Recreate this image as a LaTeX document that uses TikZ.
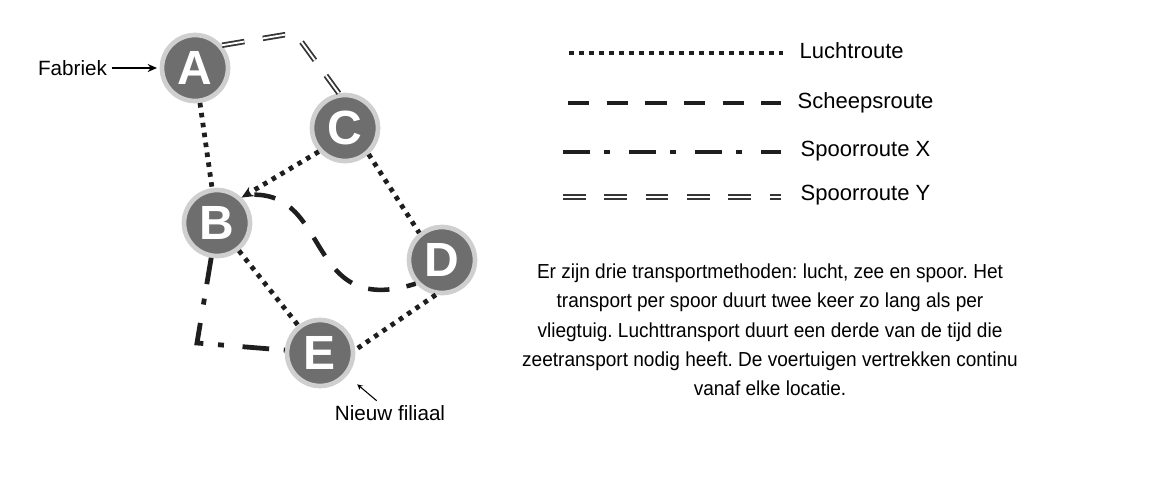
\documentclass[tikz,border=0pt]{standalone}
\usepackage{fontspec}
\setmainfont{Liberation Sans}
\newfontfamily\notefont[FakeStretch=0.94]{Liberation Sans}
\usepackage{tikz}
\usetikzlibrary{arrows,arrows.meta,calc,
                positioning}
\definecolor{StationFill}{HTML}{6E6E6E}
\definecolor{StationRing}{HTML}{CFCFCF}
\definecolor{RouteInk}{HTML}{1E1E1E}
\frenchspacing

\begin{document}
\begin{tikzpicture}[x=0.75pt,y=-0.75pt]
  \tikzset{StationNode/.style = {shape = circle, fill = StationFill, draw = StationRing, line width = 3.5pt, minimum size = 49.5pt, inner sep = 0pt, text = white, font = \fontsize{36}{36}\selectfont\bfseries}};
  \tikzset{LuchtStyle/.style = {RouteInk, line width = 3.6pt, dash pattern = on 3.4pt off 4.1pt}};
  \tikzset{ZeeStyle/.style = {RouteInk, line width = 3.4pt, dash pattern = on 16pt off 13pt}};
  \tikzset{SpoorXStyle/.style = {RouteInk, line width = 3.6pt, dash pattern = on 20pt off 11pt on 4.5pt off 14pt}};
  \tikzset{SpoorYStyle/.style = {draw = RouteInk!90, line width = 1.35pt, double = white, double distance = 1.4pt, dash pattern = on 17pt off 14pt}};
  \tikzset{LabelStyle/.style = {font = \fontsize{15.5}{18}\selectfont, text = black}};
  \tikzset{LegendStyle/.style = {font = \fontsize{16.5}{20}\selectfont, anchor = west, text height = 1.6ex, text depth = 0.3ex}};
  \tikzset{NoteStyle/.style = {font = \notefont\fontsize{15.2}{22}\selectfont, align = center}};
  \tikzset{PointerStyle/.style = {>=stealth, black, line width = 1.1pt, ->}};

  \useasboundingbox (0,0) rectangle (1160,476);

  % stations
  \node[StationNode] (A) at (195,68) {A};
  \node[StationNode] (C) at (345,128) {C};
  \node[StationNode] (B) at (217,223) {B};
  \node[StationNode] (D) at (442,260) {D};
  \node[StationNode] (E) at (320,353) {E};

  \node[LabelStyle, left = 36pt of A] (fabriek) {Fabriek};
  \node[LabelStyle] (filiaal) at (390,413) {Nieuw filiaal};

  % routes
  \coordinate (bend AC) at (295,33);
  \coordinate (corner BE) at (197,343);
  \draw[SpoorYStyle, rounded corners = 8pt] (A.40) -- (bend AC) -- (C.100);
  \draw[LuchtStyle] (A) -- (B);
  \draw[LuchtStyle, -{Stealth[length = 9pt, width = 8pt]}] (C.222) -- (B.46);
  \draw[LuchtStyle] (C.-48) -- (D.130);
  \draw[LuchtStyle] (B) -- (E);
  \draw[LuchtStyle] (D.-100) -- (E.5);
  \draw[ZeeStyle, dash phase = 18pt] (B.50) .. controls +(95,-16) and +(-116,37) .. (D.222);
  \draw[SpoorXStyle] (B) -- (corner BE) -- (E);

  \draw[black, line width = 1.5pt, -{Stealth[length = 7pt, width = 6pt]}, shorten >= 2pt] (fabriek) -- (A);
  \draw[PointerStyle, line width = 0.8pt, shorten >= 10pt] ([xshift = -10pt]filiaal.north) -- (E);

  % legend
  \node[LegendStyle] (lucht label) at (795,54) {Luchtroute};
  \node[LegendStyle] (zee label) at (793,104) {Scheepsroute};
  \node[LegendStyle] (spoorx label) at (796,152) {Spoorroute X};
  \node[LegendStyle] (spoory label) at (796,196) {Spoorroute Y};
  \coordinate (lucht start) at (569,53);
  \coordinate (zee start) at (568,103);
  \coordinate (spoorx start) at (563,152);
  \coordinate (spoory start) at (563,197);
  \draw[LuchtStyle, shorten >= 9pt] (lucht start) -- (lucht start -| lucht label.west);
  \draw[ZeeStyle, shorten >= 9pt] (zee start) -- (zee start -| zee label.west);
  \draw[SpoorXStyle, shorten >= 11pt] (spoorx start) -- (spoorx start -| spoorx label.west);
  \draw[SpoorYStyle, shorten >= 11pt] (spoory start) -- (spoory start -| spoory label.west);

  \node[NoteStyle] (note) at (770,330) {Er zijn drie transportmethoden: lucht, zee en spoor. Het\\
    transport per spoor duurt twee keer zo lang als per\\
    vliegtuig. Luchttransport duurt een derde van de tijd die\\
    zeetransport nodig heeft. De voertuigen vertrekken continu\\
    vanaf elke locatie.};
\end{tikzpicture}
\end{document}
